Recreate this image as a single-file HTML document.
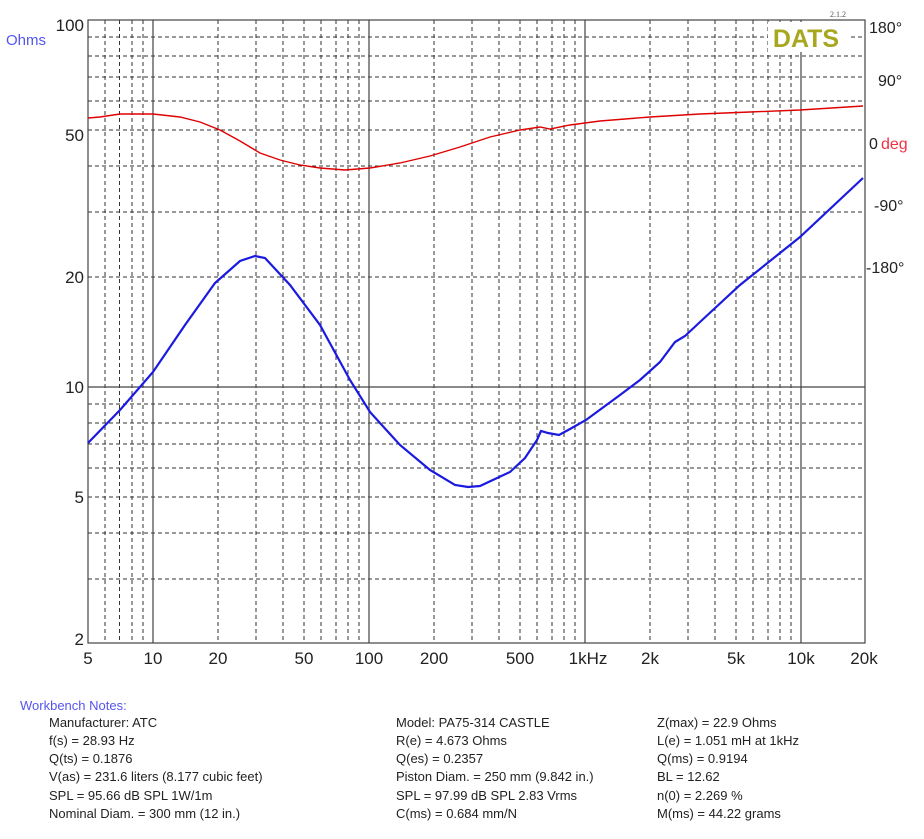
<!DOCTYPE html>
<html><head><meta charset="utf-8"><style>
body{margin:0;background:#fff;width:924px;height:839px;overflow:hidden;font-family:"Liberation Sans",Arial,sans-serif}
svg{position:absolute;left:0;top:0}
</style></head><body>
<svg width="924" height="839" viewBox="0 0 924 839" xmlns="http://www.w3.org/2000/svg" font-family="Liberation Sans, Arial, sans-serif">
<g stroke="#333" stroke-width="1" stroke-dasharray="4,3" fill="none">
<path d="M105 20V643M119.5 20V643M132 20V643M143 20V643M218 20V643M256 20V643M283 20V643M304 20V643M321 20V643M336 20V643M348 20V643M359 20V643M434 20V643M472 20V643M499 20V643M520 20V643M537 20V643M552 20V643M564 20V643M575 20V643M650 20V643M688 20V643M715 20V643M736 20V643M753 20V643M768 20V643M780 20V643M791 20V643"/>
<path d="M88 277H865M88 212H865M88 166H865M88 130H865M88 101H865M88 77H865M88 56H865M88 37H865M88 579H865M88 533H865M88 497H865M88 468H865M88 444H865M88 423H865M88 404H865"/>
</g>
<g stroke="#444" stroke-width="1.2" fill="none">
<path d="M153 20V643M369 20V643M585 20V643M801 20V643M88 387H865"/>
<rect x="88" y="20" width="777" height="623"/>
</g>
<rect x="768" y="22" width="80" height="30" fill="#fff"/>
<text x="806" y="47" font-size="25" font-weight="bold" fill="#a8a820" text-anchor="middle">DATS</text>
<text x="838" y="17" font-size="8" fill="#555" font-family="Liberation Serif, serif" text-anchor="middle">2.1.2</text>
<polyline fill="none" stroke="#e00000" stroke-width="1.4" points="88,118 100,117 120,114 153,114 180,117 200,122 220,130 240,141 260,153 280,160 300,165 320,168 345,170 370,168 400,163 430,156 460,147 490,137 520,130 540,127 550,129 570,125 600,121 650,117 700,114 750,112 800,110 863,106"/>
<polyline fill="none" stroke="#1a1ae0" stroke-width="2.2" points="88,443 120,410 153,372 185,325 215,283 240,261 255,256 265,258 290,285 320,325 350,380 370,412 400,445 430,470 455,485 468,487 480,486 510,472 525,458 537,440 541,431 548,433 559,435 570,429 586,420 620,395 640,380 660,362 675,342 685,336 700,322 740,285 800,237 863,178"/>
<g font-size="17" fill="#222" text-anchor="end">
<text x="84" y="31">100</text><text x="84" y="141">50</text><text x="84" y="283">20</text><text x="84" y="393">10</text><text x="84" y="503">5</text><text x="84" y="645">2</text>
</g>
<text x="6" y="45" font-size="15" fill="#5555ee">Ohms</text>
<g font-size="17" fill="#222" text-anchor="middle">
<text x="88" y="664">5</text><text x="153" y="664">10</text><text x="218" y="664">20</text><text x="304" y="664">50</text><text x="369" y="664">100</text><text x="434" y="664">200</text><text x="520" y="664">500</text><text x="588" y="664">1kHz</text><text x="650" y="664">2k</text><text x="736" y="664">5k</text><text x="801" y="664">10k</text><text x="864" y="664">20k</text>
</g>
<g font-size="16" fill="#222">
<text x="869" y="33">180°</text><text x="878" y="86">90°</text><text x="869" y="149">0</text><text x="874" y="211">-90°</text><text x="866" y="273">-180°</text>
</g>
<text x="881" y="149" font-size="16" fill="#ee3344">deg</text>
<text x="20" y="710" font-size="13" fill="#5555ee">Workbench Notes:</text>
<g font-size="13" fill="#222">
<text x="49" y="727">Manufacturer: ATC</text><text x="49" y="745">f(s) = 28.93 Hz</text><text x="49" y="763">Q(ts) = 0.1876</text><text x="49" y="781">V(as) = 231.6 liters  (8.177 cubic feet)</text><text x="49" y="800">SPL = 95.66 dB SPL 1W/1m</text><text x="49" y="818">Nominal Diam. = 300 mm (12 in.)</text>
<text x="396" y="727">Model: PA75-314 CASTLE</text><text x="396" y="745">R(e) = 4.673 Ohms</text><text x="396" y="763">Q(es) = 0.2357</text><text x="396" y="781">Piston Diam. = 250 mm (9.842 in.)</text><text x="396" y="800">SPL = 97.99 dB SPL 2.83 Vrms</text><text x="396" y="818">C(ms) = 0.684 mm/N</text>
<text x="657" y="727">Z(max) = 22.9 Ohms</text><text x="657" y="745">L(e) = 1.051 mH at 1kHz</text><text x="657" y="763">Q(ms) = 0.9194</text><text x="657" y="781">BL = 12.62</text><text x="657" y="800">n(0) = 2.269 %</text><text x="657" y="818">M(ms) = 44.22 grams</text>
</g>
</svg>
</body></html>
